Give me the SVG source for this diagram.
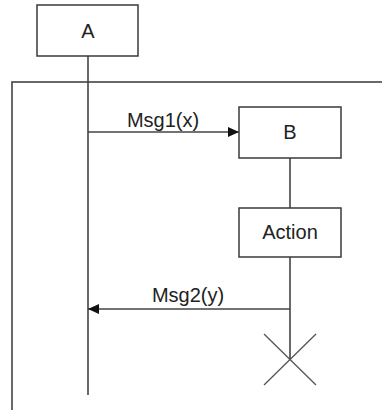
<svg xmlns="http://www.w3.org/2000/svg" width="382" height="410" viewBox="0 0 382 410">
<style>
.box{fill:#fff;stroke:#3a3a3a;stroke-width:1.5}
.ln{stroke:#444;stroke-width:1.6;fill:none}
.x{stroke:#555;stroke-width:1.3;fill:none}
text{font-family:"Liberation Sans",Arial,sans-serif;font-size:20px;fill:#222;text-anchor:middle}
</style>
<defs>
<marker id="ah" markerWidth="12" markerHeight="10" refX="11" refY="5" orient="auto" markerUnits="userSpaceOnUse">
<path d="M0,0 L11,5 L0,10 Z" fill="#111"/>
</marker>
</defs>
<rect x="12" y="82" width="375" height="340" fill="none" stroke="#444" stroke-width="1.6"/>
<g id="connectors">
<line class="ln" x1="88" y1="56" x2="88" y2="395"/>
<line class="ln" x1="290" y1="158" x2="290" y2="208"/>
<line class="ln" x1="290" y1="257" x2="290" y2="359"/>
<line class="ln" x1="88" y1="132" x2="239" y2="132" marker-end="url(#ah)"/>
<text x="163" y="127">Msg1(x)</text>
<line class="ln" x1="290" y1="309" x2="88" y2="309" marker-end="url(#ah)"/>
<text x="188" y="302">Msg2(y)</text>
</g>
<g id="A"><rect class="box" x="37" y="5" width="101" height="51"/><text x="88" y="38">A</text></g>
<g id="B"><rect class="box" x="239" y="107" width="102" height="51"/><text x="290" y="139">B</text></g>
<g id="Action"><rect class="box" x="239" y="208" width="102" height="49"/><text x="290" y="239">Action</text></g>
<g id="destroy">
<line class="x" x1="264" y1="334" x2="316" y2="385"/>
<line class="x" x1="316" y1="334" x2="264" y2="385"/>
</g>
</svg>
